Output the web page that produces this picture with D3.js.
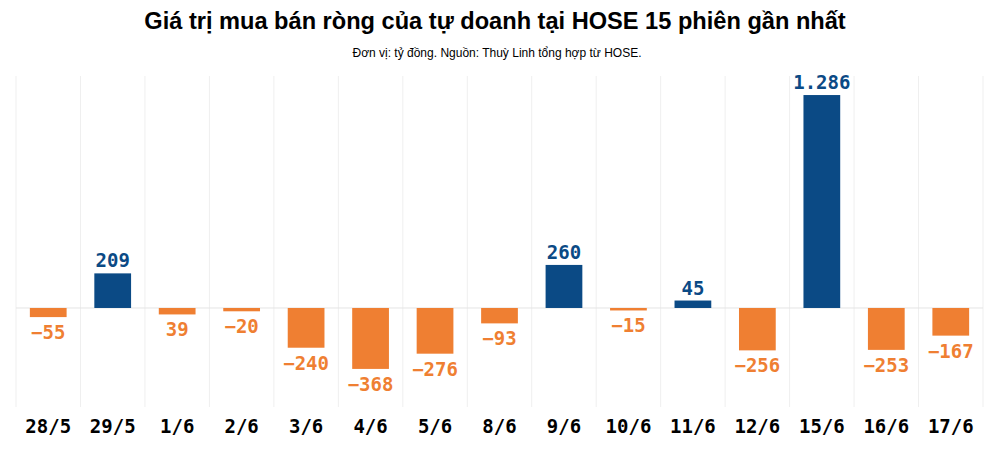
<!DOCTYPE html>
<html>
<head>
<meta charset="utf-8">
<script src="https://cdn.jsdelivr.net/npm/d3@7"></script>
<style>
  html, body { margin: 0; padding: 0; background: #fff; }
  svg { display: block; }
  .title { font-family: "Liberation Sans", Arial, sans-serif; font-weight: bold; font-size: 23.6px; fill: #000; }
  .subtitle { font-family: "Liberation Sans", Arial, sans-serif; font-size: 12px; fill: #000; }
  .value { font-family: "DejaVu Sans Mono", monospace; font-weight: bold; font-size: 19px; }
  .cat { font-family: "DejaVu Sans Mono", monospace; font-weight: bold; font-size: 19px; fill: #000; }
</style>
</head>
<body>
<svg width="1000" height="449"></svg>
<script>
const dates = ["28/5", "29/5", "1/6", "2/6", "3/6", "4/6", "5/6", "8/6", "9/6", "10/6", "11/6", "12/6", "15/6", "16/6", "17/6"];
const netValues = [-55, 209, -39, -20, -240, -368, -276, -93, 260, -15, 45, -256, 1286, -253, -167];
// labels as printed on the chart (1/6 is shown without a minus sign)
const valueLabels = ["−55", "209", "39", "−20", "−240", "−368", "−276", "−93", "260", "−15", "45", "−256", "1.286", "−253", "−167"];

const BLUE = "#0b4a85";
const ORANGE = "#ef7f32";

const svg = d3.select("svg");
const width = 1000;
const margin = { left: 16, right: 17, top: 76, bottom: 42 };
const plotBottom = 407;

svg.append("text")
  .attr("class", "title")
  .attr("x", 495)
  .attr("y", 29)
  .attr("text-anchor", "middle")
  .text("Giá trị mua bán ròng của tự doanh tại HOSE 15 phiên gần nhất");

svg.append("text")
  .attr("class", "subtitle")
  .attr("x", 497)
  .attr("y", 57)
  .attr("text-anchor", "middle")
  .text("Đơn vị: tỷ đồng. Nguồn: Thuỳ Linh tổng hợp từ HOSE.");

const x = d3.scaleBand()
  .domain(dates)
  .range([margin.left, width - margin.right])
  .paddingInner(0)
  .paddingOuter(0);

const y = d3.scaleLinear()
  .domain([-598, 1401])
  .range([plotBottom, margin.top]);

const barW = x.bandwidth() * 0.57;

// vertical band separators
const grid = svg.append("g");
grid.selectAll("line")
  .data(d3.range(dates.length + 1))
  .enter()
  .append("line")
  .attr("x1", i => margin.left + i * x.bandwidth())
  .attr("x2", i => margin.left + i * x.bandwidth())
  .attr("y1", margin.top)
  .attr("y2", plotBottom)
  .attr("stroke", "#efefef")
  .attr("stroke-width", 1);

// zero line
svg.append("line")
  .attr("x1", margin.left)
  .attr("x2", width - margin.right)
  .attr("y1", y(0))
  .attr("y2", y(0))
  .attr("stroke", "#e4e4e4")
  .attr("stroke-width", 1);

const data = dates.map((d, i) => ({ date: d, value: netValues[i], label: valueLabels[i] }));

svg.append("g")
  .selectAll("rect")
  .data(data)
  .enter()
  .append("rect")
  .attr("x", d => x(d.date) + (x.bandwidth() - barW) / 2)
  .attr("width", barW)
  .attr("y", d => Math.min(y(d.value), y(0)))
  .attr("height", d => Math.abs(y(d.value) - y(0)))
  .attr("fill", d => d.value >= 0 ? BLUE : ORANGE);

svg.append("g")
  .selectAll("text")
  .data(data)
  .enter()
  .append("text")
  .attr("class", "value")
  .attr("x", d => x(d.date) + x.bandwidth() / 2)
  .attr("y", d => d.value >= 0 ? y(d.value) - 6 : y(d.value) + 22)
  .attr("text-anchor", "middle")
  .attr("fill", d => d.value >= 0 ? BLUE : ORANGE)
  .text(d => d.label);

const xAxis = svg.append("g")
  .attr("transform", `translate(0,${plotBottom})`)
  .call(d3.axisBottom(x).tickSize(0).tickPadding(0));
xAxis.select(".domain").remove();
xAxis.selectAll("text")
  .attr("class", "cat")
  .attr("y", 26)
  .attr("dy", null)
  .attr("fill", "#000");
</script>
</body>
</html>
